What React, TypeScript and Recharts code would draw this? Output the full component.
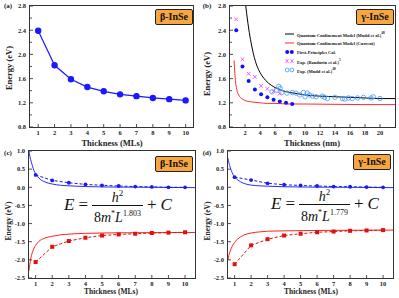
import { ComposedChart, Line, Scatter, XAxis, YAxis } from "recharts";

// (a) beta-InSe band gap vs MLs
const mlThickness = [1, 2, 3, 4, 5, 6, 7, 8, 9, 10];
const betaGap = [2.39, 1.82, 1.59, 1.46, 1.39, 1.34, 1.31, 1.28, 1.26, 1.24];

// (b) gamma-InSe band gap vs nm
const calcThickness = [0.83, 1.66, 2.49, 3.32, 4.15, 4.98, 5.81, 6.64, 7.47, 8.3];
const calcGap = [2.4, 1.8, 1.56, 1.42, 1.34, 1.29, 1.25, 1.22, 1.2, 1.18];
const bandurinThickness = [0.83, 1.66, 2.49, 3.32, 4.15, 4.98, 5.81, 6.64];
const bandurinGap = [2.58, 1.92, 1.68, 1.63, 1.48, 1.43, 1.39, 1.35];
const muddExpThickness = [5.6, 6.2, 6.5, 6.7, 6.9, 7.6, 8.3, 8.8, 9.3, 9.8, 10.0, 10.3, 10.6, 11.0, 11.5, 12.3, 12.6, 13.0, 14.0, 15.0, 15.3, 15.8, 16.3, 17.0, 17.8, 18.8, 19.1, 20.0];
const muddExpGap = [1.38, 1.41, 1.47, 1.44, 1.37, 1.36, 1.37, 1.36, 1.33, 1.37, 1.3, 1.36, 1.33, 1.31, 1.3, 1.31, 1.29, 1.27, 1.29, 1.27, 1.26, 1.28, 1.27, 1.28, 1.29, 1.28, 1.3, 1.27];
const muddModelThickness = [2.1, 2.3, 2.5, 2.8, 3.1, 3.4, 3.8, 4.2, 4.75, 5.5, 6.2, 7, 8, 9, 10, 12, 14, 16, 18, 20, 22];
const muddModelGap = [2.8, 2.6, 2.42, 2.2, 2.02, 1.88, 1.75, 1.66, 1.57, 1.49, 1.44, 1.4, 1.37, 1.35, 1.33, 1.31, 1.3, 1.29, 1.28, 1.27, 1.27];
const currentModelThickness = [0.55, 0.6, 0.65, 0.72, 0.8, 0.9, 1.0, 1.15, 1.3, 1.55, 1.8, 2.2, 2.6, 3.2, 4, 5, 6, 8, 10, 14, 18, 22];
const currentModelGap = [1.9, 1.78, 1.68, 1.57, 1.49, 1.42, 1.37, 1.33, 1.3, 1.27, 1.25, 1.23, 1.22, 1.21, 1.2, 1.19, 1.19, 1.18, 1.18, 1.175, 1.17, 1.17];

// (c) beta-InSe band edges
const cCbmFitX = [0.6, 0.65, 0.7, 0.8, 0.9, 1.0, 1.2, 1.5, 2, 2.5, 3, 4, 5, 6, 8, 10.6];
const cCbmFitY = [1.0, 0.86, 0.76, 0.6, 0.46, 0.37, 0.25, 0.16, 0.09, 0.055, 0.04, 0.02, 0.01, 0.005, 0.0, -0.01];
const cCbm = [0.34, 0.19, 0.125, 0.08, 0.055, 0.035, 0.02, 0.01, 0.0, 0.0];
const cVbmFitX = [0.6, 0.65, 0.7, 0.8, 0.9, 1.0, 1.2, 1.5, 2, 2.5, 3, 4, 5, 6, 8, 10.6];
const cVbmFitY = [-2.3, -2.12, -1.98, -1.8, -1.68, -1.6, -1.49, -1.41, -1.35, -1.31, -1.29, -1.27, -1.26, -1.255, -1.25, -1.245];
const cVbm = [-2.06, -1.64, -1.48, -1.39, -1.33, -1.3, -1.28, -1.26, -1.25, -1.24];

// (d) gamma-InSe band edges
const dCbmFitX = [0.6, 0.65, 0.7, 0.8, 0.9, 1.0, 1.2, 1.5, 2, 2.5, 3, 4, 5, 6, 8, 10.6];
const dCbmFitY = [0.8, 0.68, 0.6, 0.46, 0.36, 0.29, 0.2, 0.12, 0.06, 0.04, 0.03, 0.015, 0.008, 0.004, 0.0, -0.01];
const dCbm = [0.28, 0.2, 0.11, 0.07, 0.05, 0.035, 0.02, 0.015, 0.005, 0.0];
const dVbmFitX = [0.6, 0.65, 0.7, 0.8, 0.9, 1.0, 1.2, 1.5, 2, 2.5, 3, 4, 6, 8, 10.6];
const dVbmFitY = [-2.0, -1.88, -1.8, -1.68, -1.59, -1.52, -1.42, -1.33, -1.26, -1.23, -1.21, -1.2, -1.19, -1.185, -1.18];
const dVbm = [-2.12, -1.6, -1.43, -1.33, -1.28, -1.24, -1.22, -1.2, -1.19, -1.18];

const gapTicks = [0.8, 1.0, 1.2, 1.4, 1.6, 1.8, 2.0, 2.2, 2.4, 2.6, 2.8];
const gapLabels = ["0.8", "", "1.2", "", "1.6", "", "2.0", "", "2.4", "", "2.8"];
const nmTicks = [2, 4, 6, 8, 10, 12, 14, 16, 18, 20];
const edgeTicks = [-2.5, -2.0, -1.5, -1.0, -0.5, 0.0, 0.5, 1.0];
const edgeLabels = ["-2.5", "-2.0", "-1.5", "-1.0", "-0.5", "0.0", "0.5", "1.0"];

const legendItems = [
  "Quantum Confinement Model (Mudd et al.)",
  "Quantum Confinement Model (Current)",
  "First-Principles Cal.",
  "Exp. (Bandurin et al.)",
  "Exp. (Mudd et al.)",
];

const zip = (xs: number[], ys: number[]) => ys.map((y, i) => ({ x: xs[i], y }));

const serif = '"Liberation Serif", "Times New Roman", serif';
const ink = "#222";

function xTick(p: any) {
  return (
    <g>
      <line x1={p.x} y1={p.y} x2={p.x} y2={p.y - 3} stroke={ink} strokeWidth={0.8} />
      <text x={p.x} y={p.y + 8} textAnchor="middle" fontFamily={serif} fontWeight="bold" fontSize={6.5} fill={ink}>
        {p.payload.value}
      </text>
    </g>
  );
}

function makeYTick(ticks: number[], labels: string[]) {
  return (p: any) => {
    const v = Number(p.payload.value);
    const idx = ticks.findIndex((t) => Math.abs(t - v) < 1e-6);
    const label = idx >= 0 ? labels[idx] : "";
    return (
      <g>
        <line x1={p.x} y1={p.y} x2={p.x + (label ? 3 : 2)} y2={p.y} stroke={ink} strokeWidth={0.8} />
        {label ? (
          <text x={p.x - 4} y={p.y + 2.3} textAnchor="end" fontFamily={serif} fontWeight="bold" fontSize={6.5} fill={ink}>
            {label}
          </text>
        ) : null}
      </g>
    );
  };
}

const squareDot = (color: string) => (p: any) =>
  <rect key={p.index} x={p.cx - 2} y={p.cy - 2} width={4} height={4} fill={color} />;

function Badge({ left, top, text }: { left: number; top: number; text: string }) {
  return (
    <div
      style={{
        position: "absolute", left, top, width: 38, height: 16, boxSizing: "border-box",
        background: "#F7A642", border: "1px solid #222", borderRadius: 2,
        fontFamily: serif, fontWeight: "bold", fontSize: 10, lineHeight: "14px", textAlign: "center", color: "#111",
      }}
    >
      {text}
    </div>
  );
}

function Frame({ left, top, width, height }: { left: number; top: number; width: number; height: number }) {
  return (
    <div style={{ position: "absolute", left: left - 0.6, top: top - 0.6, width: width + 1.2, height: height + 1.2, boxSizing: "border-box", border: "1.2px solid #333", pointerEvents: "none" }} />
  );
}

function Txt({ left, top, size, children, rotate, weight = "bold" }: any) {
  return (
    <div
      style={{
        position: "absolute", left, top, fontFamily: serif, fontWeight: weight, fontSize: size, color: ink,
        whiteSpace: "nowrap", transform: rotate ? "translate(-50%,-50%) rotate(-90deg)" : "translate(-50%,-50%)",
      }}
    >
      {children}
    </div>
  );
}

function Formula({ left, top, exp }: { left: number; top: number; exp: string }) {
  const it = { fontStyle: "italic" as const };
  return (
    <div style={{ position: "absolute", left, top, display: "flex", alignItems: "center", fontFamily: serif, fontSize: 17, color: "#111", whiteSpace: "nowrap" }}>
      <span style={it}>E</span>
      <span style={{ margin: "0 4px" }}>=</span>
      <span style={{ display: "inline-flex", flexDirection: "column", alignItems: "center", fontSize: 14 }}>
        <span style={{ padding: "0 2px", lineHeight: "15px" }}>
          <span style={it}>h</span><sup style={{ fontSize: 9 }}>2</sup>
        </span>
        <span style={{ borderTop: "1.2px solid #111", padding: "0 2px", lineHeight: "15px" }}>
          8<span style={it}>m</span><sup style={{ fontSize: 8 }}>*</sup><span style={it}>L</span>
          <sup style={{ fontSize: 8 }}>{exp}</sup>
        </span>
      </span>
      <span style={{ margin: "0 4px" }}>+</span>
      <span style={it}>C</span>
    </div>
  );
}

function LegendRow({ i, text }: { i: number; text: string }) {
  const y = 34 + i * 9;
  let sym;
  if (i === 0) sym = <line x1={0} y1={4} x2={9} y2={4} stroke="#000" strokeWidth={1} />;
  else if (i === 1) sym = <line x1={0} y1={4} x2={9} y2={4} stroke="#ff2a2a" strokeWidth={1} />;
  else if (i === 2) sym = (<g fill="#1010ff"><circle cx={2.2} cy={4} r={2} /><circle cx={6.8} cy={4} r={2} /></g>);
  else if (i === 3) sym = (<g stroke="#ff44ff" strokeWidth={0.8}><path d="M0.5 2 L3.5 6 M0.5 6 L3.5 2 M5.5 2 L8.5 6 M5.5 6 L8.5 2" /></g>);
  else sym = (<g stroke="#3b9bff" strokeWidth={0.8} fill="none"><circle cx={2.2} cy={4} r={1.9} /><circle cx={6.8} cy={4} r={1.9} /></g>);
  return (
    <div style={{ position: "absolute", left: 285, top: y - 4, display: "flex", alignItems: "center", height: 8 }}>
      <svg width={10} height={8}>{sym}</svg>
      <span style={{ marginLeft: 2, fontFamily: serif, fontWeight: "bold", fontSize: 4.5, color: "#111", whiteSpace: "nowrap" }}>
        {text}
        {i === 0 || i === 3 || i === 4 ? <sup style={{ fontSize: 3.5 }}>{i === 3 ? "5" : "48"}</sup> : null}
      </span>
    </div>
  );
}

export default function App() {
  const noAxisLine = { axisLine: false, tickLine: false, tickSize: 0, tickMargin: 0, interval: 0 } as const;
  return (
    <div style={{ position: "fixed", left: 0, top: 0, width: 399, height: 298, background: "#fff", overflow: "hidden" }}>
      {/* (a) */}
      <div style={{ position: "absolute", left: 0, top: 0 }}>
        <ComposedChart width={199} height={148} margin={{ top: 6, right: 6, bottom: 0, left: 0 }}>
          <XAxis type="number" dataKey="x" domain={[0.5, 10.45]} ticks={mlThickness} tick={xTick} height={21} {...noAxisLine} allowDataOverflow />
          <YAxis type="number" dataKey="y" domain={[0.8, 2.8]} ticks={gapTicks} tick={makeYTick(gapTicks, gapLabels)} width={30} {...noAxisLine} allowDataOverflow />
          <Line data={zip(mlThickness, betaGap)} dataKey="y" stroke="#1a1aff" strokeWidth={1.2} dot={{ r: 2.6, fill: "#1a1aff", stroke: "#1a1aff" }} isAnimationActive={false} />
        </ComposedChart>
      </div>
      <Frame left={30} top={6} width={163} height={121} />

      {/* (b) */}
      <div style={{ position: "absolute", left: 199, top: 0 }}>
        <ComposedChart width={200} height={148} margin={{ top: 6, right: 4, bottom: 0, left: 0 }}>
          <XAxis type="number" dataKey="x" domain={[0, 22]} ticks={nmTicks} tick={xTick} height={21} {...noAxisLine} allowDataOverflow />
          <YAxis type="number" dataKey="y" domain={[0.8, 2.8]} ticks={gapTicks} tick={makeYTick(gapTicks, gapLabels)} width={31} {...noAxisLine} allowDataOverflow />
          <Line data={zip(muddModelThickness, muddModelGap)} dataKey="y" type="monotone" stroke="#000" strokeWidth={1} dot={false} isAnimationActive={false} />
          <Line data={zip(currentModelThickness, currentModelGap)} dataKey="y" type="monotone" stroke="#ff2a2a" strokeWidth={1} dot={false} isAnimationActive={false} />
          <Scatter data={zip(muddExpThickness, muddExpGap)} isAnimationActive={false}
            shape={(p: any) => <circle cx={p.cx} cy={p.cy} r={2.2} fill="none" stroke="#3b9bff" strokeWidth={0.8} />} />
          <Scatter data={zip(bandurinThickness, bandurinGap)} isAnimationActive={false}
            shape={(p: any) => <path d={`M${p.cx - 1.8} ${p.cy - 1.8} L${p.cx + 1.8} ${p.cy + 1.8} M${p.cx - 1.8} ${p.cy + 1.8} L${p.cx + 1.8} ${p.cy - 1.8}`} stroke="#ff44ff" strokeWidth={0.9} />} />
          <Scatter data={zip(calcThickness, calcGap)} isAnimationActive={false}
            shape={(p: any) => <circle cx={p.cx} cy={p.cy} r={2} fill="#1010ff" />} />
        </ComposedChart>
      </div>
      <Frame left={230} top={6} width={165} height={121} />
      {legendItems.map((t, i) => <LegendRow key={i} i={i} text={t} />)}

      {/* (c) */}
      <div style={{ position: "absolute", left: 0, top: 148 }}>
        <ComposedChart width={199} height={150} margin={{ top: 3, right: 4, bottom: 0, left: 0 }}>
          <XAxis type="number" dataKey="x" domain={[0.6, 10.6]} ticks={mlThickness} tick={xTick} height={20} {...noAxisLine} allowDataOverflow />
          <YAxis type="number" dataKey="y" domain={[-2.5, 1.0]} ticks={edgeTicks} tick={makeYTick(edgeTicks, edgeLabels)} width={29} {...noAxisLine} allowDataOverflow />
          <Line data={zip(cCbmFitX, cCbmFitY)} dataKey="y" type="monotone" stroke="#2a2aff" strokeWidth={1} dot={false} isAnimationActive={false} />
          <Line data={zip(mlThickness, cCbm)} dataKey="y" stroke="#1a1aee" strokeWidth={1} strokeDasharray="3 2" dot={{ r: 1.9, fill: "#1a1aee", stroke: "none" }} isAnimationActive={false} />
          <Line data={zip(cVbmFitX, cVbmFitY)} dataKey="y" type="monotone" stroke="#ff2020" strokeWidth={1} dot={false} isAnimationActive={false} />
          <Line data={zip(mlThickness, cVbm)} dataKey="y" stroke="#e01010" strokeWidth={1} strokeDasharray="3 2" dot={squareDot("#e01010")} isAnimationActive={false} />
        </ComposedChart>
      </div>
      <Frame left={29} top={151} width={166} height={127} />

      {/* (d) */}
      <div style={{ position: "absolute", left: 199, top: 148 }}>
        <ComposedChart width={200} height={150} margin={{ top: 3, right: 6, bottom: 0, left: 0 }}>
          <XAxis type="number" dataKey="x" domain={[0.6, 10.6]} ticks={mlThickness} tick={xTick} height={20} {...noAxisLine} allowDataOverflow />
          <YAxis type="number" dataKey="y" domain={[-2.5, 1.0]} ticks={edgeTicks} tick={makeYTick(edgeTicks, edgeLabels)} width={29} {...noAxisLine} allowDataOverflow />
          <Line data={zip(dCbmFitX, dCbmFitY)} dataKey="y" type="monotone" stroke="#2a2aff" strokeWidth={1} dot={false} isAnimationActive={false} />
          <Line data={zip(mlThickness, dCbm)} dataKey="y" stroke="#1a1aee" strokeWidth={1} strokeDasharray="3 2" dot={{ r: 1.9, fill: "#1a1aee", stroke: "none" }} isAnimationActive={false} />
          <Line data={zip(dVbmFitX, dVbmFitY)} dataKey="y" type="monotone" stroke="#ff2020" strokeWidth={1} dot={false} isAnimationActive={false} />
          <Line data={zip(mlThickness, dVbm)} dataKey="y" stroke="#e01010" strokeWidth={1} strokeDasharray="3 2" dot={squareDot("#e01010")} isAnimationActive={false} />
        </ComposedChart>
      </div>
      <Frame left={228} top={151} width={165} height={127} />

      {/* labels */}
      <Txt left={8} top={6} size={7}>(a)</Txt>
      <Txt left={207} top={6} size={7}>(b)</Txt>
      <Txt left={8} top={153} size={7}>(c)</Txt>
      <Txt left={207} top={153} size={7}>(d)</Txt>
      <Txt left={9} top={68} size={8.5} rotate>Energy (eV)</Txt>
      <Txt left={207} top={74} size={8.5} rotate>Energy (eV)</Txt>
      <Txt left={8} top={221} size={7.5} rotate>Energy (eV)</Txt>
      <Txt left={207} top={221} size={7.5} rotate>Energy (eV)</Txt>
      <Txt left={112} top={143} size={8.5}>Thickness (MLs)</Txt>
      <Txt left={312} top={143} size={8.5}>Thickness (nm)</Txt>
      <Txt left={111} top={291} size={7.5}>Thickness (MLs)</Txt>
      <Txt left={311} top={291} size={7.5}>Thickness (MLs)</Txt>

      <Badge left={155} top={9} text="β-InSe" />
      <Badge left={356} top={9} text="γ-InSe" />
      <Badge left={155} top={156} text="β-InSe" />
      <Badge left={353} top={154} text="γ-InSe" />

      <Formula left={64} top={186} exp="1.803" />
      <Formula left={271} top={185} exp="1.779" />
    </div>
  );
}
